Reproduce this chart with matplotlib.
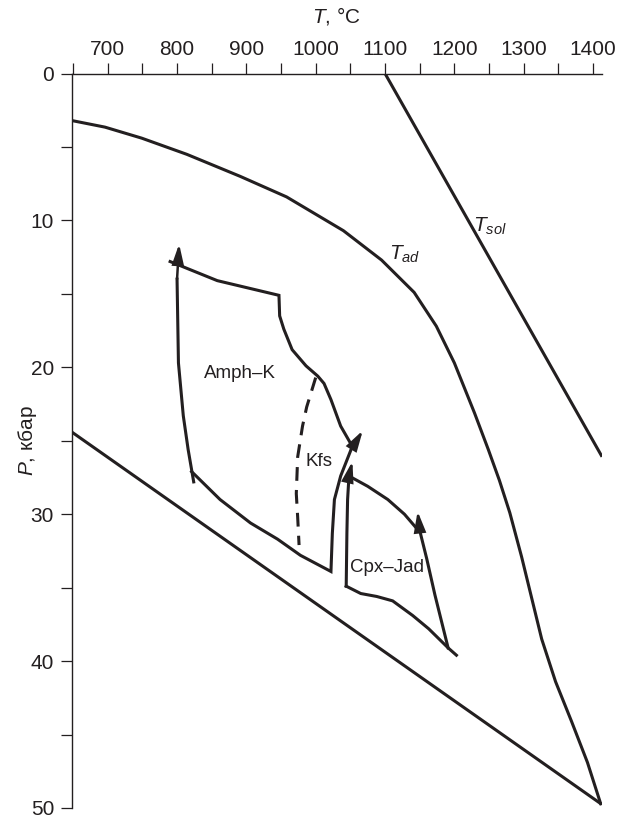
import numpy as np
import matplotlib
matplotlib.use('Agg')
import matplotlib.pyplot as plt
from matplotlib.ticker import MultipleLocator

plt.rcParams['font.family'] = ['Liberation Sans', 'DejaVu Sans']
plt.rcParams['mathtext.fontset'] = 'custom'
plt.rcParams['mathtext.rm'] = 'Liberation Sans'
plt.rcParams['mathtext.it'] = 'Liberation Sans:italic'

INK = '#231f20'

# адиабата
tad_T = [648, 696, 749, 814, 891, 958, 1040, 1095, 1142, 1174, 1200, 1229,
         1249, 1265, 1280, 1297, 1326, 1346, 1369, 1392, 1411]
tad_P = [3.2, 3.65, 4.4, 5.5, 7.0, 8.4, 10.7, 12.7, 14.9, 17.2, 19.7, 23.1,
         25.6, 27.7, 29.9, 32.9, 38.5, 41.4, 44.1, 46.9, 49.7]

# солидус
tsol_T = [1100, 1412]
tsol_P = [0, 26.0]

# нижняя граница
low_T = [648, 1411]
low_P = [24.4, 49.7]

# Amph-K: левая ветвь (стрелка вверх)
ak_left_T = [824, 816, 809, 802, 800, 803]
ak_left_P = [27.8, 25.6, 23.3, 19.7, 14.0, 11.6]

# Amph-K: верх и правая граница
ak_top_T = [790, 858, 947, 948, 954, 966, 986, 1003, 1012, 1022, 1036, 1053]
ak_top_P = [12.8, 14.1, 15.1, 16.5, 17.4, 18.8, 19.9, 20.6, 21.1, 22.2, 24.0, 25.4]

# Amph-K: низ + Kfs (стрелка вверх)
ak_bot_T = [821, 862, 906, 945, 978, 1022, 1024, 1027, 1036, 1051, 1068]
ak_bot_P = [27.1, 29.0, 30.6, 31.7, 32.8, 33.9, 31.3, 29.0, 27.4, 25.6, 24.3]

# пунктир
dash_T = [1000, 987, 981, 974, 972, 974, 976]
dash_P = [20.7, 22.7, 24.0, 26.1, 28.6, 30.2, 32.1]

# Cpx-Jad
cj_left_T = [1044, 1045, 1046, 1048, 1053]
cj_left_P = [34.9, 31.3, 29.0, 27.4, 26.4]
cj_top_T = [1048, 1075, 1104, 1128, 1148]
cj_top_P = [27.4, 28.1, 29.0, 30.0, 31.1]
cj_bot_T = [1044, 1065, 1088, 1111, 1140, 1163, 1191, 1203]
cj_bot_P = [34.9, 35.4, 35.6, 35.9, 36.9, 37.8, 39.1, 39.6]
cj_right_T = [1191, 1172, 1160, 1150, 1147]
cj_right_P = [39.1, 35.5, 33.0, 31.1, 29.8]

labels = [('Amph–K', 891, 20.4), ('Kfs', 1005, 26.4), ('Cpx–Jad', 1103, 33.6)]

fig = plt.figure(figsize=(6.19, 8.15), dpi=100)
ax = fig.add_axes([0.1158, 0.0086, 0.8562, 0.9012])

lw = 2.2


def line(T, P, **kw):
    ax.plot(T, P, color=INK, lw=lw, solid_joinstyle='miter', **kw)


def arrow_line(T, P):
    # линия до предпоследней точки, последний отрезок - стрелка
    line(T[:-1], P[:-1])
    ax.annotate('', xy=(T[-1], P[-1]), xytext=(T[-2], P[-2]),
                arrowprops=dict(arrowstyle='-|>,head_length=0.7,head_width=0.2',
                                mutation_scale=17, color=INK, lw=1.8,
                                shrinkA=0, shrinkB=0, joinstyle='miter'))


line(tad_T, tad_P)
line(tsol_T, tsol_P)
line(low_T, low_P)
arrow_line(ak_left_T, ak_left_P)
line(ak_top_T, ak_top_P)
arrow_line(ak_bot_T, ak_bot_P)
ax.plot(dash_T, dash_P, color=INK, lw=lw, ls=(0, (4.5, 3)))
arrow_line(cj_left_T, cj_left_P)
line(cj_top_T, cj_top_P)
line(cj_bot_T, cj_bot_P)
arrow_line(cj_right_T, cj_right_P)

for s, x, y in labels:
    ax.text(x, y, s, fontsize=13.5, color=INK, ha='center', va='center')
ax.text(1128, 12.3, r'$T_{ad}$', fontsize=15, color=INK, ha='center', va='center')
ax.text(1251, 10.4, r'$T_{sol}$', fontsize=15, color=INK, ha='center', va='center')

ax.set_xlim(648, 1412.5)
ax.set_ylim(50, 0)
ax.xaxis.set_major_locator(MultipleLocator(100))
ax.xaxis.set_minor_locator(MultipleLocator(50))
ax.yaxis.set_major_locator(MultipleLocator(10))
ax.yaxis.set_minor_locator(MultipleLocator(5))
ax.xaxis.tick_top()
ax.xaxis.set_label_position('top')
for side in ['right', 'bottom']:
    ax.spines[side].set_visible(False)
for side in ['left', 'top']:
    ax.spines[side].set_linewidth(1.0)
    ax.spines[side].set_color(INK)
ax.tick_params(which='both', direction='out', length=7.7, width=0.9, color=INK,
               labelsize=15, labelcolor=INK)
ax.tick_params(axis='x', pad=3)
ax.tick_params(axis='y', pad=5)
ax.set_xlabel(r'$T$, °C', fontsize=15, color=INK)
ax.set_ylabel(r'$P$, кбар', fontsize=15, color=INK)
ax.xaxis.set_label_coords(0.5, 1.07)
ax.yaxis.set_label_coords(-0.062, 0.5)

fig.savefig('out.png', dpi=100)
